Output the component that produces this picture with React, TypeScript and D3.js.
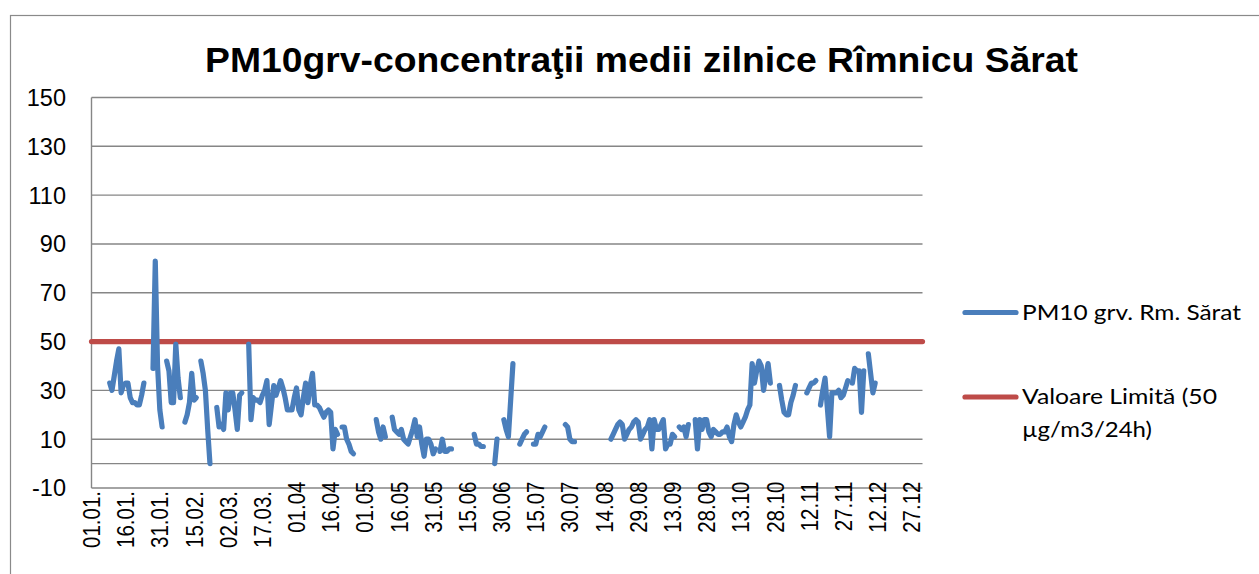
import React from "react";
import * as d3 from "d3";

const titleText = "PM10grv-concentraţii medii zilnice Rîmnicu Sărat";
const seriesName = "PM10 grv. Rm. Sărat";
const limitNameLine1 = "Valoare Limită (50";
const limitNameLine2 = "µg/m3/24h)";
const limitValue = 50;

const yTicks = [-10, 10, 30, 50, 70, 90, 110, 130, 150];
const xTickDays = [0, 15, 30, 45, 60, 75, 90, 105, 120, 135, 150, 165, 180, 195, 210, 225, 240, 255, 270, 285, 300, 315, 330, 345, 360];
const xTickLabels = ["01.01.", "16.01.", "31.01.", "15.02.", "02.03.", "17.03.", "01.04", "16.04", "01.05", "16.05", "31.05", "15.06", "30.06", "15.07", "30.07", "14.08", "29.08", "13.09", "28.09", "13.10", "28.10", "12.11", "27.11", "12.12", "27.12"];

// day-of-year index where each continuous run of measurements starts
const segmentStarts = [8, 27, 33, 41, 48, 55, 69, 110, 125, 132, 153, 168, 177, 181, 188, 194, 208, 228, 258, 265, 302, 314, 320, 334, 341];
// daily PM10 values (µg/m3) for each run
const segmentValues: number[][] = [
  [33, 30, 36, 42, 47, 29, 32, 33, 33, 27, 25, 25, 24, 24, 28, 33],
  [39, 83, 40, 22, 15],
  [42, 38, 25, 25, 49, 35, 27],
  [17, 20, 25, 37, 26, 27],
  [42, 37, 30, 14, 0],
  [23, 15, 16, 14, 29, 22, 29, 29, 22, 14, 28, 29],
  [49, 18, 27, 26, 26, 25, 28, 30, 34, 16, 24, 32, 28, 31, 34, 31, 27, 22, 22, 22, 27, 31, 22, 20, 27, 33, 25, 32, 37, 24, 24, 23, 21, 19, 21, 22, 21, 6, 14, 12],
  [15, 15, 10, 8, 5, 4],
  [18, 13, 10, 15, 11],
  [19, 14, 13, 12, 14, 10, 9, 8, 11, 14, 18, 11, 15, 8, 3, 10, 10, 8, 4, 6],
  [5, 10, 5, 5, 6, 6],
  [12, 8, 8, 7, 7],
  [0, 10],
  [18, 14, 11, 26, 41],
  [8, 10, 12, 13],
  [8, 8, 12, 11, 13, 15],
  [16, 15, 10, 9, 9],
  [10, 12, 14, 16, 17, 16, 10, 12, 14, 15, 17, 18, 17, 10, 12, 14, 15, 18, 6, 18, 14, 14, 16, 18, 6, 8, 8, 12, 11],
  [15, 14, 15, 11, 16],
  [18, 6, 18, 14, 18, 18, 13, 11, 14, 13, 12, 12, 13, 13, 15, 11, 9, 16, 20, 17, 15, 17, 19, 22, 24, 41, 33, 38, 42, 40, 30, 36, 41, 33],
  [32, 26, 21, 20, 20, 25, 28, 32],
  [29, 31, 33, 33, 34],
  [24, 30, 35, 23, 11, 29, 29, 29, 30, 27, 28, 31, 34],
  [33, 39, 38, 38, 21, 38],
  [45, 37, 29, 33],
];

const BLUE = "#4A7EBB";
const RED = "#BE4B48";
const GRID = "#868686";

export default function App() {
  const left = 91.5;
  const right = 922.5;
  const top = 97.5;
  const bottom = 488;
  const x = d3.scaleLinear().domain([0, 365]).range([left, 923]);
  const y = d3.scaleLinear().domain([-10, 150]).range([bottom, top]);

  const line = d3
    .line<[number, number]>()
    .x((d) => x(d[0]))
    .y((d) => y(d[1]));

  const paths = segmentStarts.map((s, i) =>
    line(segmentValues[i].map((v, j) => [s + j, v] as [number, number]))
  );

  return (
    <svg
      width={1259}
      height={574}
      style={{ position: "absolute", left: 0, top: 0, background: "#fff" }}
      fontFamily="'Liberation Sans', Arial, sans-serif"
    >
      <rect x={0} y={0} width={1259} height={574} fill="#fff" />
      <rect x={10.5} y={15.5} width={1260} height={580} fill="none" stroke="#8a8a8a" strokeWidth={1.2} />

      <text
        x={641.5}
        y={72}
        textAnchor="middle"
        fontWeight="bold"
        fontSize={35}
        textLength={873}
        lengthAdjust="spacingAndGlyphs"
        fill="#000"
      >
        {titleText}
      </text>

      {yTicks.map((t) => (
        <g key={t}>
          <line x1={left} x2={right} y1={y(t)} y2={y(t)} stroke={GRID} strokeWidth={1.4} />
          <text x={66} y={y(t)} dy="0.36em" textAnchor="end" fontSize={23.5} fill="#000">
            {t}
          </text>
        </g>
      ))}
      <line x1={left} x2={right} y1={y(0)} y2={y(0)} stroke={GRID} strokeWidth={1.4} />
      <line x1={left} x2={left} y1={top} y2={bottom} stroke={GRID} strokeWidth={1.4} />

      {xTickDays.map((d, i) => {
        const withDot = xTickLabels[i].endsWith(".");
        const yEnd = withDot ? 491 : 481.5;
        return (
          <text
            key={d}
            transform={`translate(${x(d) + 8.6},${yEnd}) rotate(-90) scale(0.855,1)`}
            textAnchor="end"
            fontSize={24}
            fill="#000"
          >
            {xTickLabels[i]}
          </text>
        );
      })}

      <line
        x1={left}
        x2={right}
        y1={y(limitValue)}
        y2={y(limitValue)}
        stroke={RED}
        strokeWidth={5.2}
        strokeLinecap="round"
      />

      {paths.map((p, i) => (
        <path
          key={i}
          d={p || ""}
          fill="none"
          stroke={BLUE}
          strokeWidth={5.2}
          strokeLinejoin="round"
          strokeLinecap="round"
        />
      ))}

      <g fontFamily="Lato, 'Open Sans', sans-serif" fontSize={21} fill="#000">
        <line x1={965} x2={1016} y1={312.5} y2={312.5} stroke={BLUE} strokeWidth={5.2} strokeLinecap="round" />
        <text x={1022} y={320} textLength={219} lengthAdjust="spacingAndGlyphs">
          {seriesName}
        </text>
        <line x1={965} x2={1016} y1={397} y2={397} stroke={RED} strokeWidth={5.2} strokeLinecap="round" />
        <text x={1022} y={404} textLength={195} lengthAdjust="spacingAndGlyphs">
          {limitNameLine1}
        </text>
        <text x={1022} y={437} textLength={130} lengthAdjust="spacingAndGlyphs">
          {limitNameLine2}
        </text>
      </g>
    </svg>
  );
}
